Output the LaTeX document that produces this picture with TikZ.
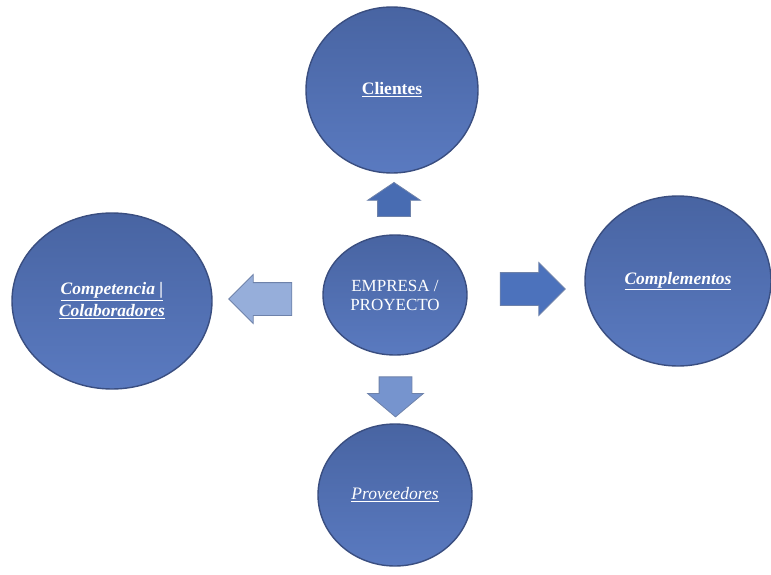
\documentclass[tikz,border=0pt]{standalone}
\usepackage{fontspec}
\setmainfont{Liberation Serif}
\usetikzlibrary{shapes.geometric,shapes.arrows}
\definecolor{ctop}{RGB}{72,100,162}
\definecolor{cbot}{RGB}{90,122,192}
\definecolor{cedge}{RGB}{58,78,128}
\definecolor{aup}{RGB}{72,108,178}
\definecolor{aleft}{RGB}{150,174,218}
\definecolor{aright}{RGB}{76,114,188}
\definecolor{adown}{RGB}{118,148,206}
\definecolor{aedge}{RGB}{110,130,170}
\tikzset{
  bubble/.style={ellipse, inner sep=0pt, draw=cedge, line width=1.4pt,
    top color=ctop, bottom color=cbot, text=white, align=center,
    font=\fontsize{17.5}{22}\selectfont},
  blockarrow/.style={single arrow, draw=aedge, line width=0.8pt,
    inner xsep=0pt, inner ysep=16pt, single arrow head indent=0pt}
}
\begin{document}
\begin{tikzpicture}[x=1pt,y=-1pt]
\useasboundingbox (0,0) rectangle (771,575);
\fill[white] (0,0) rectangle (771,575);
% circles
\node[bubble, minimum width=172pt, minimum height=166pt] (cli) at (392,90)
  {\textbf{\underline{Clientes}}};
\node[bubble, minimum width=200pt, minimum height=176pt] (comp) at (112,301)
  {\textbf{\textit{\underline{Competencia |}}}\\\textbf{\textit{\underline{Colaboradores}}}};
\node[bubble, minimum width=186pt, minimum height=170pt] (compl) at (678,281)
  {\textbf{\textit{\underline{Complementos}}}};
\node[bubble, minimum width=154pt, minimum height=142pt] (prov) at (395,495)
  {\textit{\underline{Proveedores}}};
\node[bubble, minimum width=144pt, minimum height=120pt,
  font=\fontsize{17}{19}\selectfont] (emp) at (395,295)
  {EMPRESA /\\PROYECTO};
% arrows
\node[blockarrow, fill=aup, rotate=90, minimum height=34pt, minimum width=52pt,
  single arrow head extend=10pt, single arrow tip angle=112] (aU) at (394,205) {};
\node[blockarrow, fill=aleft, rotate=180, minimum height=63pt, minimum width=48pt,
  single arrow head extend=8pt] (aL) at (268.5,299) {};
\node[blockarrow, fill=aright, minimum height=65pt, minimum width=52pt,
  single arrow head extend=10pt] (aR) at (524.5,289) {};
\node[blockarrow, fill=adown, rotate=-90, minimum height=40pt, minimum width=55pt,
  single arrow head extend=11.5pt, single arrow tip angle=100] (aD) at (395.5,390) {};
\end{tikzpicture}
\end{document}
